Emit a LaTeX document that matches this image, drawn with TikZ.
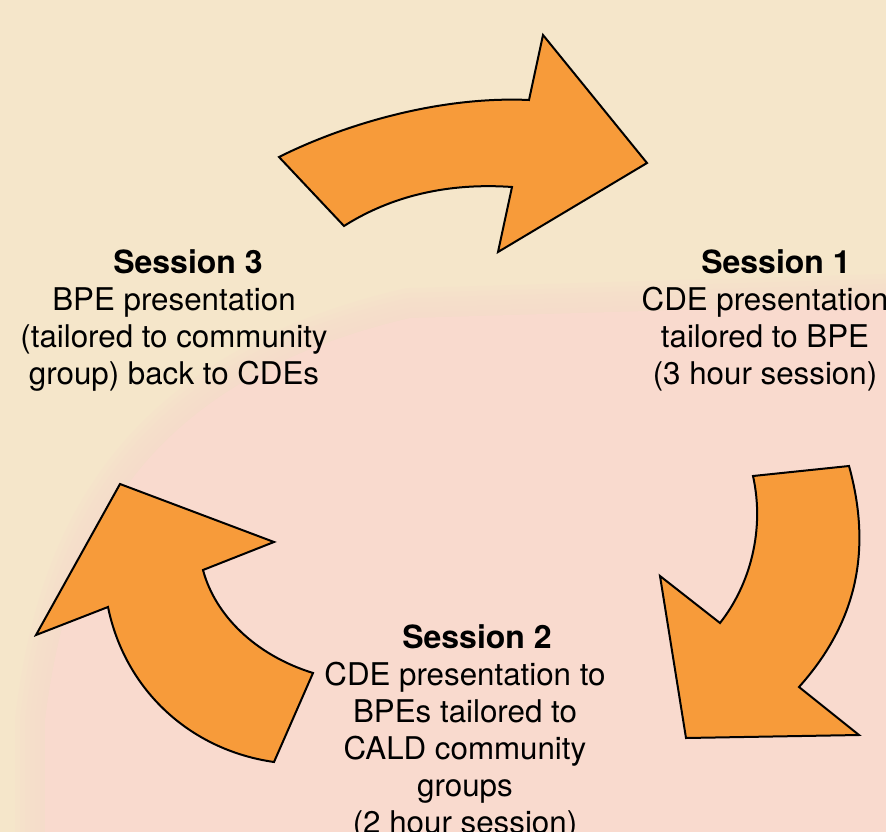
\documentclass[tikz,border=0pt]{standalone}
\usepackage{fontspec}
\setmainfont{TeX Gyre Heros}
\usetikzlibrary{arrows}

\definecolor{parchment}{RGB}{245,230,202}
\definecolor{blush}{RGB}{249,218,206}
\definecolor{arroworange}{RGB}{247,155,58}

\begin{document}
\begin{tikzpicture}[x=1pt,y=-1pt,node distance=37pt]
\tikzset{
	arrowshape/.style={fill=arroworange, draw=black, line width=2pt, line join=miter},
	txt/.style={inner sep=0pt, text height=22pt, text depth=7pt, font=\fontsize{31.3}{37}\selectfont},
	title/.style={txt, font=\fontsize{32}{37}\selectfont\bfseries}
}
\useasboundingbox (0,0) rectangle (886,832);
% background, pink area with a soft edge
\fill[parchment] (0,0) rectangle (886,832);
\foreach \w in {60,50,40,30,20,10}
	\draw[blush, opacity=0.2, line width=\w pt] (45,900) -- (45,720) .. controls (65,560) and (125,385) .. (410,318) -- (950,302);
\fill[blush] (45,900) -- (45,720) .. controls (65,560) and (125,385) .. (410,318) -- (950,302) -- (950,900) -- cycle;

% top arrow (session 3 -> session 1)
\draw[arrowshape] (279,157) .. controls (345,124) and (440,96) .. (529,100) -- (543,35) -- (647,163)
	-- (498,252) -- (512,187) .. controls (440,182) and (385,200) .. (344,226) -- cycle;
% right arrow (session 1 -> session 2)
\draw[arrowshape] (753,476) -- (849,466) .. controls (875,560) and (850,630) .. (799,687) -- (859,735)
	-- (686,738) -- (660,576) -- (720,623) .. controls (750,585) and (765,530) .. cycle;
% left arrow (session 2 -> session 3)
\draw[arrowshape] (120,484) -- (274,542) -- (203,570) .. controls (215,615) and (255,655) .. (313,673)
	-- (274,762) .. controls (190,750) and (125,690) .. (108,607) -- (36,635) -- cycle;

% session 3
\node[title] (S3) at (188,265.5) {Session 3};
\node[txt, below of=S3, xshift=-14pt] (S3a) {BPE presentation};
\node[txt, below of=S3a] (S3b) {(tailored to community};
\node[txt, below of=S3b] (S3c) {group) back to CDEs};

% session 1
\node[title] (S1) at (776,265.5) {Session 1};
\node[txt, below of=S1, xshift=-11pt] (S1a) {CDE presentation};
\node[txt, below of=S1a] (S1b) {tailored to BPE};
\node[txt, below of=S1b] (S1c) {(3 hour session)};

% session 2
\node[title] (S2) at (477,640.5) {Session 2};
\node[txt, below of=S2, xshift=-12pt] (S2a) {CDE presentation to};
\node[txt, below of=S2a] (S2b) {BPEs tailored to};
\node[txt, below of=S2b] (S2c) {CALD community};
\node[txt, below of=S2c] (S2d) {groups};
\node[txt, below of=S2d] (S2e) {(2 hour session)};
\end{tikzpicture}
\end{document}
